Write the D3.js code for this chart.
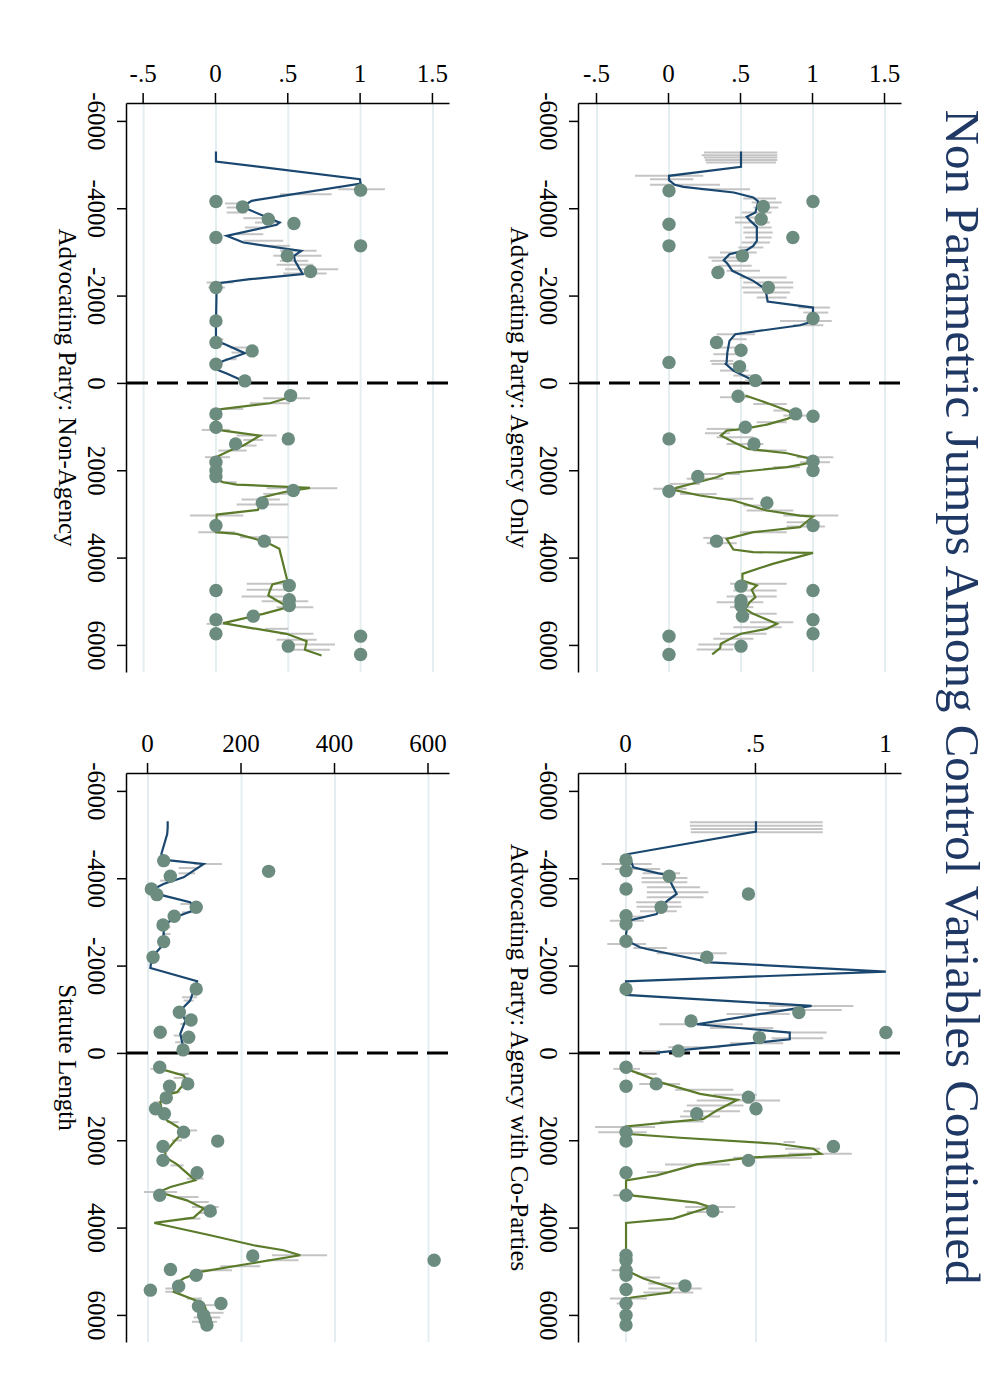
<!DOCTYPE html>
<html lang="en">
<head>
<meta charset="utf-8">
<script src="https://d3js.org/d3.v7.min.js"></script>
<style>
  body { margin: 0; background: #fff; }
</style>
</head>
<body>
<svg width="1000" height="1389"></svg>
<script>
// ---- data (time, value) ----
var chartTitle = "Non Parametric Jumps Among Control Variables Continued";
var timeTicks = [-6000, -4000, -2000, 0, 2000, 4000, 6000];
var timeLabels = ["-6000", "-4000", "-2000", "0", "2000", "4000", "6000"];
var shareTicks = [-0.5, 0, 0.5, 1, 1.5];
var shareLabels = ["-.5", "0", ".5", "1", "1.5"];
var coTicks = [0, 0.5, 1];
var coLabels = ["0", ".5", "1"];
var lenTicks = [0, 200, 400, 600];
var lenLabels = ["0", "200", "400", "600"];

// Advocating Party: Agency Only
var aoDots = [[-4399,0],[-4155,1],[-4040,0.655],[-3750,0.64],[-3635,0],[-3330,0.86],[-3139,0],[-2910,0.51],[-2528,0.34],[-2184,0.69],[-1474,1],[-924,0.33],[-748,0.5],[-470,0],[-374,0.49],[-53,0.6],[305,0.48],[710,0.88],[763,1],[1015,0.53],[1282,0],[1396,0.59],[1793,1],[2007,1],[2144,0.2],[2480,0],[2747,0.68],[3266,1],[3624,0.33],[4654,0.5],[4753,1],[4982,0.5],[5097,0.5],[5341,0.51],[5425,1],[5745,1],[5799,0],[6028,0.5],[6218,0]];
var aoPre = [[-5300,0.5],[-4949,0.5],[-4743,0],[-4643,0],[-4536,0.04],[-4491,0.1],[-4361,0.45],[-4246,0.585],[-4155,0.62],[-3902,0.6],[-3803,0.54],[-3727,0.56],[-3574,0.61],[-3253,0.61],[-3139,0.585],[-3040,0.54],[-2948,0.42],[-2810,0.38],[-2734,0.405],[-2566,0.44],[-2337,0.585],[-2146,0.67],[-1863,0.685],[-1726,1],[-1611,1],[-1382,0.97],[-1321,0.91],[-1115,0.46],[-962,0.42],[-695,0.405],[-466,0.4],[-435,0.393],[-282,0.447],[-130,0.54],[-69,0.575]];
var aoPost = [[290,0.53],[481,0.7],[633,0.82],[748,0.88],[824,0.82],[954,0.68],[1053,0.52],[1091,0.4],[1206,0.36],[1358,0.45],[1511,0.55],[1610,0.82],[1740,0.99],[1816,1],[1930,0.82],[2068,0.4],[2159,0.33],[2274,0.2],[2403,0.05],[2449,0.03],[2579,0.215],[2693,0.447],[2922,0.68],[3037,0.91],[3060,1],[3304,0.91],[3418,0.585],[3571,0.4],[3815,0.447],[3876,0.585],[3891,1],[4143,0.72],[4372,0.51],[4525,0.51],[4639,0.61],[4738,0.574],[4906,0.6],[5021,0.56],[5173,0.53],[5288,0.585],[5517,0.75],[5631,0.68],[5745,0.5],[5822,0.447],[5974,0.36],[6073,0.355],[6218,0.3]];
var aoCI = [[-5277,0.243,0.752],[-5216,0.227,0.752],[-5163,0.243,0.752],[-5102,0.25,0.752],[-5048,0.257,0.743],[-4743,-0.236,0.238],[-4666,-0.132,0.169],[-4536,-0.132,0.354],[-4437,0.215,0.5625],[-4223,0.516,0.743],[-4132,0.574,0.782],[-4017,0.586,0.759],[-3902,0.505,0.713],[-3788,0.458,0.678],[-3673,0.458,0.701],[-3559,0.516,0.713],[-3444,0.516,0.72],[-3330,0.528,0.713],[-3215,0.505,0.701],[-3101,0.481,0.655],[-2986,0.354,0.609],[-2872,0.273,0.528],[-2795,0.296,0.539],[-2681,0.343,0.574],[-2566,0.4,0.632],[-2413,0.493,0.817],[-2299,0.516,0.863],[-2184,0.505,0.863],[-2070,0.516,0.84],[-1955,0.609,0.817],[-1726,0.898,1.118],[-1611,0.933,1.106],[-1420,0.771,1.13],[-1321,0.863,1.072],[-1115,0.331,0.597],[-1000,0.424,0.539],[-810,0.343,0.493],[-657,0.308,0.493],[-504,0.285,0.447],[-435,0.296,0.47],[-282,0.354,0.551],[-168,0.447,0.62],[-53,0.528,0.655],
  [328,0.354,0.5625],[481,0.586,0.817],[633,0.725,0.91],[748,0.794,0.956],[900,0.609,0.817],[1053,0.262,0.447],[1152,0.25,0.424],[1244,0.331,0.586],[1396,0.4,0.655],[1549,0.586,0.817],[1701,0.887,1.141],[1816,0.91,1.118],[1930,0.725,0.91],[2083,0.215,0.493],[2197,0.123,0.377],[2312,0.007,0.215],[2426,-0.109,0.123],[2541,0.076,0.331],[2655,0.331,0.586],[2808,0.516,0.655],[2922,0.539,0.863],[3037,0.794,1.176],[3189,0.817,1.049],[3289,0.817,1.083],[3418,0.493,0.817],[3548,0.238,0.447],[3670,0.262,0.47],[4601,0.424,0.817],[4753,0.447,0.748],[4891,0.4,0.748],[5021,0.331,0.655],[5135,0.424,0.586],[5288,0.516,0.748],[5479,0.5625,0.863],[5593,0.447,0.782],[5745,0.354,0.678],[5860,0.308,0.586],[5990,0.204,0.493],[6104,0.192,0.447]];

// Advocating Party: Non-Agency
var naDots = [[-4414,1],[-4155,0],[-4032,0.184],[-3750,0.362],[-3650,0.539],[-3330,0],[-3139,1],[-2910,0.493],[-2551,0.654],[-2184,0],[-1420,0],[-924,0],[-733,0.25],[-428,0],[-46,0.2],[290,0.516],[710,0],[1015,0],[1282,0.5],[1396,0.136],[1816,0],[2007,0],[2144,0],[2464,0.535],[2747,0.32],[3266,0],[3624,0.334],[4639,0.507],[4753,0],[4967,0.507],[5097,0.507],[5341,0.258],[5425,0],[5745,0],[5799,1],[6028,0.5],[6218,1]];
var naPre = [[-5300,0],[-5071,0],[-4666,0.995],[-4567,1],[-4170,0.247],[-4032,0.18],[-3673,0.44],[-3620,0.42],[-3368,0.074],[-3215,0.19],[-3024,0.59],[-2910,0.54],[-2795,0.546],[-2490,0.6],[-2375,0.235],[-2276,0.005],[-1345,0],[-962,0],[-900,0.05],[-680,0.2],[-504,0.05],[-428,0],[-314,0],[-214,0.074],[-46,0.19]];
var naPost = [[328,0.51],[465,0.373],[595,0.05],[618,0],[1053,0],[1091,0.05],[1206,0.304],[1434,0.19],[1549,0.097],[1701,0],[2197,0],[2274,0.05],[2327,0.143],[2403,0.65],[2503,0.465],[2617,0.327],[2907,0.29],[3014,0.005],[3418,0],[3456,0.143],[3647,0.35],[3800,0.438],[4525,0.493],[4616,0.39],[4753,0.373],[4868,0.362],[5021,0.442],[5135,0.5],[5288,0.327],[5501,0.05],[5608,0.235],[5745,0.488],[5913,0.627],[6111,0.615],[6241,0.73]];
var naCI = [[-4437,0.846,1.168],[-4323,0.442,0.8],[-4109,0.062,0.212],[-4017,0.074,0.235],[-3902,0.074,0.212],[-3773,0.189,0.396],[-3673,0.27,0.454],[-3559,0.2,0.35],[-3406,0.143,0.327],[-3253,0.189,0.465],[-3139,0.327,0.512],[-3024,0.442,0.696],[-2910,0.396,0.73],[-2795,0.442,0.638],[-2704,0.419,0.673],[-2604,0.477,0.846],[-2505,0.465,0.765],[-2299,-0.065,0.12],[-2184,-0.053,0.062],[-1000,-0.018,0.051],[-810,0.097,0.212],[-695,0.108,0.189],[-542,0.062,0.143],
  [351,0.327,0.65],[465,0.235,0.512],[595,0.051,0.189],[1076,-0.099,0.097],[1206,0.143,0.419],[1305,0.189,0.327],[1434,0.108,0.281],[1549,0.016,0.212],[1701,-0.076,0.097],[2274,0.028,0.143],[2411,0.35,0.839],[2541,0.327,0.535],[2671,0.177,0.442],[2785,0.143,0.5],[3037,-0.18,0.189],[3418,-0.122,0.131],[3533,0.166,0.5],[4601,0.212,0.5],[4738,0.212,0.512],[4891,0.177,0.5],[4998,0.316,0.638],[5135,0.419,0.673],[5517,-0.065,0.074],[5631,0.339,0.5],[5745,0.442,0.673],[5883,0.419,0.696],[5990,0.512,0.823],[6112,0.523,0.788]];

// Advocating Party: Agency with Co-Parties
var cpDots = [[-4418,0],[-4174,0],[-4044,0.166],[-3754,0],[-3639,0.471],[-3334,0.135],[-3144,0],[-2953,0],[-2556,0],[-2190,0.311],[-1465,0],[-923,0.665],[-733,0.25],[-466,1],[-351,0.513],[-46,0.201],[328,0],[709,0.116],[762,0],[1013,0.471],[1280,0.5],[1394,0.272],[1814,0],[2019,0],[2141,0.798],[2461,0.471],[2743,0],[3261,0],[3620,0.334],[4633,0],[4747,0],[4976,0],[5090,0],[5334,0.227],[5418,0],[5738,0],[6005,0],[6233,0]];
var cpPre = [[-5303,0.5],[-5066,0.5],[-4555,0.009],[-4250,0.028],[-4113,0.125],[-4082,0.157],[-3640,0.195],[-3502,0.163],[-3373,0.137],[-3182,0.118],[-3029,0.009],[-2724,0],[-2571,0.003],[-2419,0.054],[-2380,0.08],[-2075,0.324],[-1861,1],[-1640,0],[-1329,0],[-1077,0.714],[-657,0.272],[-466,0.63],[-313,0.63],[-7,0.118]];
var cpPost = [[366,0],[480,0.054],[693,0.144],[937,0.285],[1074,0.429],[1318,0.349],[1509,0.298],[1684,0],[1852,0],[1943,0.208],[2080,0.58],[2195,0.721],[2309,0.75],[2400,0.471],[2553,0.272],[2804,0.118],[2918,0],[3109,0],[3269,0.028],[3429,0.272],[3528,0.323],[3795,0.182],[3894,0],[4976,0],[5166,0.067],[5395,0.182],[5487,0.169],[5601,0.022],[5640,0]];
var cpCI = [[-5280,0.246,0.757],[-5204,0.246,0.757],[-5127,0.249,0.757],[-5051,0.249,0.757],[-4326,-0.094,0.099],[-4212,-0.042,0.131],[-4113,0.064,0.208],[-4006,0.06,0.236],[-3907,0.06,0.236],[-3792,0.08,0.285],[-3678,0.08,0.317],[-3563,0.08,0.298],[-3449,0.039,0.211],[-3350,0.041,0.214],[-3243,0.054,0.195],[-3121,0.003,0.067],[-3029,-0.062,0.069],[-2495,-0.072,0.077],[-2403,0.028,0.157],[-2281,0.118,0.388],[-1077,0.55,0.875],[-985,0.5,0.83],[-890,0.387,0.63],[-657,0.128,0.45],[-570,0.323,0.567],[-466,0.63,0.772],[-337,0.56,0.759],[-220,0.4,0.605],[-130,0.163,0.362],[-38,0.06,0.131],
  [366,-0.049,0.054],[480,0.041,0.118],[709,0.051,0.208],[846,0.189,0.413],[960,0.336,0.503],[1090,0.272,0.593],[1204,0.234,0.452],[1334,0.221,0.439],[1456,0.208,0.362],[1570,0.131,0.298],[1699,-0.119,0.112],[1814,-0.107,0.08],[2042,0.606,0.651],[2195,0.612,0.747],[2309,0.625,0.869],[2400,0.413,0.715],[2553,0.15,0.4],[2728,0.08,0.157],[3261,-0.049,0.028],[3528,0.227,0.42],[3642,0.234,0.375],[4976,-0.055,0.028],[5143,0.06,0.131],[5281,0.086,0.214],[5395,0.086,0.291],[5487,0.067,0.259],[5624,-0.062,0.08],[5738,-0.036,0.028]];

// Statute Length
var stDots = [[-4403,33.5],[-4158,258],[-4044,47.7],[-3754,7],[-3624,19],[-3334,103],[-3128,56],[-2930,32],[-2548,33.5],[-2190,10.7],[-1465,103],[-931,67],[-755,92],[-473,26],[-359,87],[-69,75],[328,25],[709,85],[762,46],[1029,39],[1280,16],[1394,35],[1814,76],[2019,149],[2141,32],[2461,32],[2743,105],[3261,25],[3620,133],[4648,224],[4747,612],[4961,48],[5090,103],[5342,65.5],[5433,5],[5738,156],[5799,108],[6005,119],[6119,122.5],[6233,126]];
var stPre = [[-5303,42],[-5150,42],[-5013,41],[-4555,28.5],[-4420,36],[-4326,119],[-4021,76],[-3868,33],[-3754,12],[-3601,33.5],[-3449,90],[-3296,105],[-3105,58],[-2915,33.5],[-2648,33.5],[-2450,30],[-2190,8],[-1946,5],[-1640,105],[-1198,90],[-969,69],[-740,80],[-435,69],[-244,73],[-30,78]];
var stPost = [[366,26],[518,76],[632,83],[899,62],[975,33.5],[1128,26],[1318,30],[1547,40.6],[1684,62],[1814,76],[2004,58],[2271,37],[2385,37],[2553,62],[2918,101],[3071,48],[3185,23],[3376,83],[3566,119],[3772,97.6],[3894,13.5],[4176,133],[4404,226],[4519,290],[4633,325.6],[4823,219],[5014,112],[5166,76],[5242,65.5],[5471,55],[5662,101],[5738,119],[5928,126],[6081,133]];
var stCI = [[-4326,97.6,158],[-4235,65.5,105],[-4113,65.5,101],[-3945,26,55],[-3411,69,97.6],[-3220,72.7,97.6],[-2877,26,48],[-2724,30,48],[-1274,72.7,105],[-1198,76,97.6],[-664,69,83],[-397,55,83],[-244,58,94],
  [366,5,37],[480,58,87],[572,55,83],[899,40.6,69],[1128,12,37],[1585,40.6,65.5],[1775,69,105],[2004,51,72.7],[2576,48,76],[2880,83,119],[3185,-9,62],[3300,62,108],[3414,90.5,130],[3528,94,151],[3665,108,147.5],[3795,76,112],[4633,265,383],[4747,254,322],[4884,154.6,240],[4976,104.7,179.6],[5395,37,69],[5471,37,69],[5624,83,115],[5776,104.7,147.5],[5951,104.7,161.7],[6058,97.6,154.6],[6157,94,147.5]];

// ---- drawing ----
var font = "'Liberation Serif', 'Times New Roman', serif";
var svg = d3.select("svg");

// the Stata figure is landscape; draw it as such and turn it a quarter turn clockwise
var g = svg.append("g").attr("transform", "translate(1000,0) rotate(90)");

g.append("text")
  .attr("x", 697)
  .attr("y", 54)
  .attr("text-anchor", "middle")
  .attr("font-family", font)
  .attr("font-size", 49)
  .attr("textLength", 1175)
  .attr("lengthAdjust", "spacingAndGlyphs")
  .attr("fill", "#1f3864")
  .text(chartTitle);

var panels = [
  { name: "Advocating Party: Agency Only", dots: aoDots, pre: aoPre, post: aoPost, ci: aoCI,
    ticks: shareTicks, labels: shareLabels, vdom: [-0.625, 1.618], left: 103, right: 672, top: 98, bottom: 421 },
  { name: "Advocating Party: Non-Agency", dots: naDots, pre: naPre, post: naPost, ci: naCI,
    ticks: shareTicks, labels: shareLabels, vdom: [-0.615, 1.618], left: 103, right: 672, top: 550, bottom: 873 },
  { name: "Advocating Party: Agency with Co-Parties", dots: cpDots, pre: cpPre, post: cpPost, ci: cpCI,
    ticks: coTicks, labels: coLabels, vdom: [-0.181, 1.062], left: 773, right: 1342, top: 98, bottom: 421 },
  { name: "Statute Length", dots: stDots, pre: stPre, post: stPost, ci: stCI,
    ticks: lenTicks, labels: lenLabels, vdom: [-45, 646], left: 773, right: 1342, top: 550, bottom: 873 }
];

panels.forEach(drawPanel);

function drawPanel(p) {
  var x = d3.scaleLinear().domain([-6410, 6620]).range([p.left, p.right]);
  var y = d3.scaleLinear().domain(p.vdom).range([p.bottom, p.top]);
  var pg = g.append("g");

  //grid lines at the value ticks
  pg.selectAll(".grid")
    .data(p.ticks)
    .enter()
    .append("line")
    .attr("class", "grid")
    .attr("x1", p.left)
    .attr("x2", p.right)
    .attr("y1", function (d) { return y(d); })
    .attr("y2", function (d) { return y(d); })
    .attr("stroke", "#e4eef1")
    .attr("stroke-width", 2);

  //dashed cutoff at zero
  pg.append("line")
    .attr("x1", x(0))
    .attr("x2", x(0))
    .attr("y1", p.bottom)
    .attr("y2", p.top)
    .attr("stroke", "#000")
    .attr("stroke-width", 3)
    .attr("stroke-dasharray", "21,9");

  //confidence spikes
  pg.selectAll(".ci")
    .data(p.ci)
    .enter()
    .append("line")
    .attr("class", "ci")
    .attr("x1", function (d) { return x(d[0]); })
    .attr("x2", function (d) { return x(d[0]); })
    .attr("y1", function (d) { return y(d[1]); })
    .attr("y2", function (d) { return y(d[2]); })
    .attr("stroke", "#c4c4c4")
    .attr("stroke-width", 2);

  var line = d3.line()
    .x(function (d) { return x(d[0]); })
    .y(function (d) { return y(d[1]); });

  pg.append("path")
    .datum(p.pre)
    .attr("d", line)
    .attr("fill", "none")
    .attr("stroke", "#1a476f")
    .attr("stroke-width", 2.2);

  pg.append("path")
    .datum(p.post)
    .attr("d", line)
    .attr("fill", "none")
    .attr("stroke", "#5b7b2b")
    .attr("stroke-width", 2.2);

  pg.selectAll(".dot")
    .data(p.dots)
    .enter()
    .append("circle")
    .attr("class", "dot")
    .attr("cx", function (d) { return x(d[0]); })
    .attr("cy", function (d) { return y(d[1]); })
    .attr("r", 6.7)
    .attr("fill", "#6c8c7f");

  //value axis (shown along the top once turned)
  var va = pg.append("g")
    .attr("transform", "translate(" + p.left + ",0)")
    .call(d3.axisLeft(y)
      .tickValues(p.ticks)
      .tickFormat(function (d, i) { return p.labels[i]; })
      .tickSize(10)
      .tickSizeOuter(0))
    .attr("font-family", font)
    .attr("font-size", 25);
  va.selectAll("text")
    .attr("transform", "rotate(-90)")
    .attr("x", 0)
    .attr("y", -21)
    .attr("dy", null)
    .attr("text-anchor", "middle")
    .attr("fill", "#000");

  //time axis
  var ta = pg.append("g")
    .attr("transform", "translate(0," + p.bottom + ")")
    .call(d3.axisBottom(x)
      .tickValues(timeTicks)
      .tickFormat(function (d, i) { return timeLabels[i]; })
      .tickSize(10)
      .tickSizeOuter(0))
    .attr("font-family", font)
    .attr("font-size", 25);
  ta.selectAll("text")
    .attr("y", 39)
    .attr("dy", null)
    .attr("fill", "#000");

  pg.selectAll(".domain, .tick line").attr("stroke", "#000").attr("stroke-width", 1.5);

  pg.append("text")
    .attr("x", (p.left + p.right) / 2)
    .attr("y", p.bottom + 68)
    .attr("text-anchor", "middle")
    .attr("font-family", font)
    .attr("font-size", 25)
    .text(p.name);
}
</script>
</body>
</html>
